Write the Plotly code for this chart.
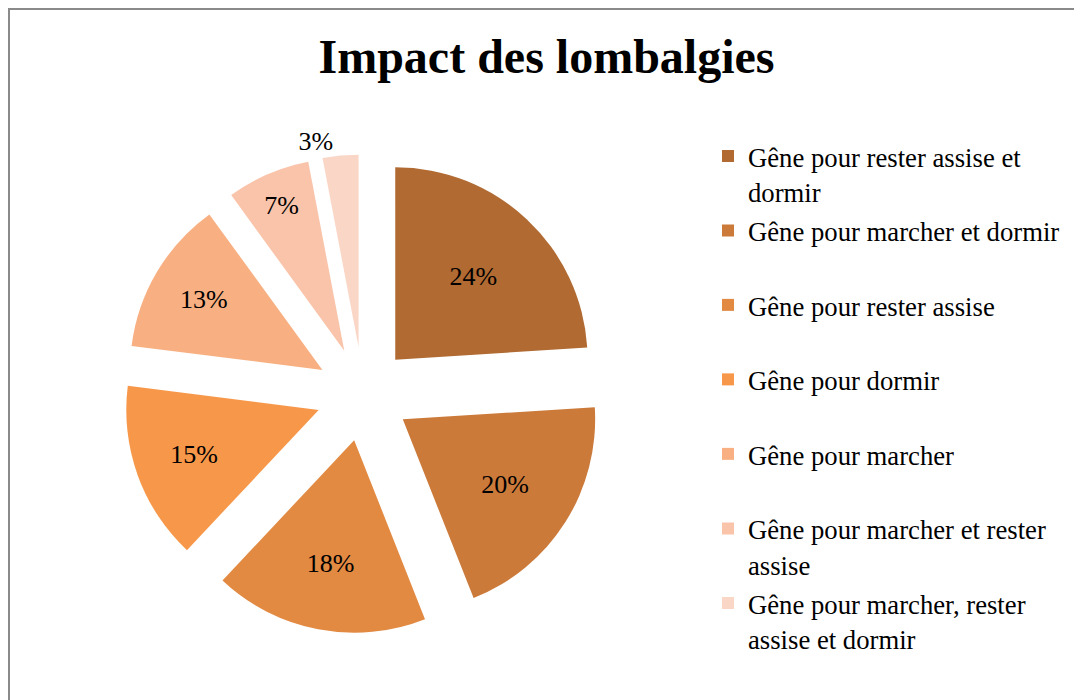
import plotly.graph_objects as go

# Data
label_lines = [
    ["Gêne pour rester assise et", "dormir"],
    ["Gêne pour marcher et dormir", " "],
    ["Gêne pour rester assise", " "],
    ["Gêne pour dormir", " "],
    ["Gêne pour marcher", " "],
    ["Gêne pour marcher et rester", "assise"],
    ["Gêne pour marcher, rester", "assise et dormir"],
]
values = [24, 20, 18, 15, 13, 7, 3]
colors = ["#B06A32", "#CB7A3A", "#E28942", "#F79749", "#F8B082", "#F9C4AA", "#FAD6C7"]
text_pos = ["inside", "inside", "inside", "inside", "inside", "inside", "outside"]

W, H = 1082, 700
serif = "Liberation Serif, Times New Roman, serif"

# every legend entry takes two lines so the entries are evenly spaced
labels = ["<br>".join(f"<span style='font-size:26.7px'>{t}</span>" for t in lines)
          for lines in label_lines]

fig = go.Figure(go.Pie(
    labels=labels,
    values=values,
    sort=False,
    direction="clockwise",
    rotation=0,
    pull=[0.245] * len(values),
    marker=dict(colors=colors, line=dict(width=0)),
    textinfo="percent",
    texttemplate="%{percent:.0%}",
    textposition=text_pos,
    insidetextorientation="horizontal",
    textfont=dict(family=serif, size=26, color="black"),
    domain=dict(x=[115.5 / W, 594.5 / W], y=[1 - 625.5 / H, 1 - 146.5 / H]),
))

fig.update_layout(
    width=W,
    height=H,
    margin=dict(l=0, r=0, t=0, b=0, autoexpand=False),
    paper_bgcolor="white",
    title=dict(
        text="<b>Impact des lombalgies</b>",
        x=538.5 / W, xanchor="center",
        y=1 - 48 / H, yanchor="middle",
        font=dict(family=serif, size=48, color="black"),
    ),
    legend=dict(
        x=700 / W, xanchor="left",
        y=1 - 123.5 / H, yanchor="top",
        font=dict(family=serif, size=27.5, color="black"),
        valign="top",
        traceorder="normal",
    ),
    # grey chart frame along the page edge
    shapes=[dict(
        type="rect", xref="paper", yref="paper",
        x0=1 / W, x1=1, y0=0, y1=1 - 1 / H,
        line=dict(color="#8a8a8a", width=2),
    )],
)

fig.write_html("out.html")
